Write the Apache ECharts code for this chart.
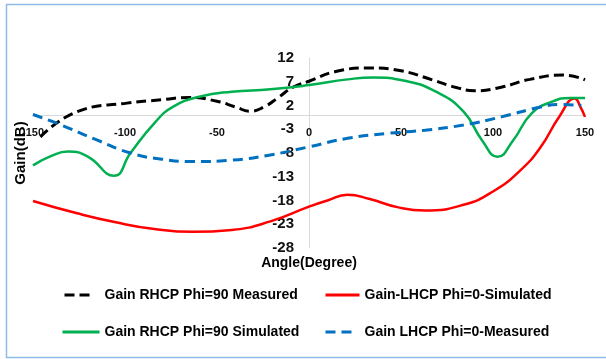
<!DOCTYPE html>
<html>
<head>
<meta charset="utf-8">
<script src="https://cdn.jsdelivr.net/npm/echarts@6/dist/echarts.min.js"></script>
<style>
  html, body { margin: 0; padding: 0; background: #fff; }
  #chart { width: 606px; height: 359px; }
</style>
</head>
<body>
<div id="chart"></div>
<script>
// Gain patterns, angle in degrees, gain in dB
const rhcpMeasAngle = [-146, -126, -99, -80, -65, -50, -40, -32, -24, -17, -8.5, 0, 14, 33, 50, 67, 80, 90, 105, 120, 138, 150];
const rhcpMeasGain  = [-4.6, 0.7, 2.5, 3.2, 3.7, 2.9, 1.7, 0.8, 1.8, 3.6, 5.9, 7.1, 9.1, 9.9, 9.3, 7.4, 5.8, 5.1, 5.9, 7.5, 8.4, 7.4];

const rhcpSimAngle = [-150, -140, -131, -120, -106, -97, -84, -74, -59, -42, -21, 0, 21, 35, 52, 69, 84, 94, 102.5, 111, 121, 132, 142, 150];
const rhcpSimGain  = [-10.6, -8.6, -7.7, -8.8, -12.8, -8.0, -1.7, 1.7, 3.9, 4.9, 5.4, 6.3, 7.5, 7.9, 7.2, 4.9, 0.7, -5.3, -8.8, -5.3, 0.35, 2.8, 3.6, 3.6];

const lhcpMeasAngle = [-150, -136, -115, -97, -80, -63, -42, -21, 0, 21, 42, 63, 84, 105, 126, 136, 148];
const lhcpMeasGain  = [0.1, -1.9, -5.3, -8.0, -9.3, -9.8, -9.5, -8.4, -6.7, -4.9, -3.9, -3.2, -2.1, -0.35, 1.7, 2.2, 2.0];

const lhcpSimAngle = [-150, -126, -105, -84, -63, -42, -21, 0, 10, 21, 33, 48, 63, 84, 100, 115, 126, 136, 144.5, 147.5, 150];
const lhcpSimGain  = [-18.1, -20.7, -22.6, -24.0, -24.6, -24.2, -22.4, -19.3, -18.0, -16.8, -17.7, -19.4, -20.1, -18.9, -16.1, -11.6, -6.7, -0.35, 3.5, 1.7, -0.4];

const gainTicks = [12, 7, 2, -3, -8, -13, -18, -23, -28];

const names = [
  'Gain RHCP Phi=90 Measured',
  'Gain-LHCP Phi=0-Simulated',
  'Gain RHCP Phi=90 Simulated',
  'Gain LHCP Phi=0-Measured'
];

const pairs = (xs, ys) => xs.map((x, i) => [x, ys[i]]);
const FONT = '"Liberation Sans", Arial, sans-serif';

// plot area in pixels; the axes cross at angle 0 / gain 0
const GRID = { left: 33, right: 21, top: 58, bottom: 111 };
const PLOT_W = 606 - GRID.left - GRID.right;
const PLOT_H = 359 - GRID.top - GRID.bottom;
const X_MIN = -150, X_MAX = 150, Y_MIN = -28, Y_MAX = 12;
const yAxisShift = PLOT_W * (0 - X_MIN) / (X_MAX - X_MIN);   // from left edge to angle 0
const xAxisShift = PLOT_H * (0 - Y_MIN) / (Y_MAX - Y_MIN);   // from bottom edge to gain 0

const chart = echarts.init(document.getElementById('chart'));

const legendText = { color: '#000', fontFamily: FONT, fontWeight: 'bold', fontSize: 14 };
const blackDash = [10, 5];
const blueDash = [10, 6];

// one legend per entry so both columns line up
function legendEntry(name, left, top, width, gap, dash, color, lw) {
  return {
    data: [name], left: left, top: top, padding: 0,
    itemWidth: width, itemHeight: 14,
    itemStyle: { opacity: 0 },
    lineStyle: { color: color, width: lw, type: dash || 'solid' },
    textStyle: Object.assign({ padding: [0, 0, 0, gap] }, legendText)
  };
}

chart.setOption({
  animation: false,
  backgroundColor: '#fff',
  grid: Object.assign({ containLabel: false, outerBoundsMode: 'none' }, GRID),
  graphic: [{
    type: 'rect',
    silent: true,
    shape: { x: 6.5, y: 4.5, width: 640, height: 353 },
    style: { fill: 'none', stroke: '#8fbbe8', lineWidth: 1.5 }
  }],
  legend: [
    legendEntry(names[0], 63, 288, 27, 8, blackDash, '#000', 3),
    legendEntry(names[1], 324, 288, 34, 0, null, '#ff0000', 3),
    legendEntry(names[2], 61, 325, 37, 0, null, '#00b050', 3),
    legendEntry(names[3], 324, 325, 28, 6, blueDash, '#0070c0', 3)
  ],
  xAxis: {
    type: 'value',
    min: X_MIN, max: X_MAX, interval: 50,
    position: 'bottom',
    offset: -xAxisShift,
    name: 'Angle(Degree)',
    nameLocation: 'middle',
    nameGap: 141,
    nameTextStyle: { color: '#000', fontFamily: FONT, fontWeight: 'bold', fontSize: 14 },
    axisLine: { onZero: false, lineStyle: { color: '#d9d9d9', width: 1 } },
    axisTick: { show: false },
    splitLine: { show: false },
    axisLabel: { color: '#111', fontFamily: FONT, fontWeight: 'bold', fontSize: 11, margin: 12 }
  },
  yAxis: {
    type: 'value',
    min: Y_MIN, max: Y_MAX,
    position: 'left',
    offset: -yAxisShift,
    name: 'Gain(dB)',
    nameLocation: 'middle',
    nameGap: 281,
    nameRotate: 90,
    nameTextStyle: { color: '#000', fontFamily: FONT, fontWeight: 'bold', fontSize: 15 },
    axisLine: { show: true, onZero: false, lineStyle: { color: '#d9d9d9', width: 1 } },
    axisTick: { show: false },
    splitLine: { show: false },
    axisLabel: {
      customValues: gainTicks,
      color: '#111', fontFamily: FONT, fontWeight: 'bold', fontSize: 15, margin: 15
    }
  },
  series: [
    {
      name: names[0], type: 'line', smooth: true, symbol: 'none',
      data: pairs(rhcpMeasAngle, rhcpMeasGain),
      itemStyle: { color: '#000' },
      lineStyle: { color: '#000', width: 3, type: blackDash }
    },
    {
      name: names[1], type: 'line', smooth: true, symbol: 'none',
      data: pairs(lhcpSimAngle, lhcpSimGain),
      itemStyle: { color: '#ff0000' },
      lineStyle: { color: '#ff0000', width: 2.5 }
    },
    {
      name: names[2], type: 'line', smooth: true, symbol: 'none',
      data: pairs(rhcpSimAngle, rhcpSimGain),
      itemStyle: { color: '#00b050' },
      lineStyle: { color: '#00b050', width: 2.5 }
    },
    {
      name: names[3], type: 'line', smooth: true, symbol: 'none',
      data: pairs(lhcpMeasAngle, lhcpMeasGain),
      itemStyle: { color: '#0070c0' },
      lineStyle: { color: '#0070c0', width: 3, type: blueDash }
    }
  ]
});
</script>
</body>
</html>
